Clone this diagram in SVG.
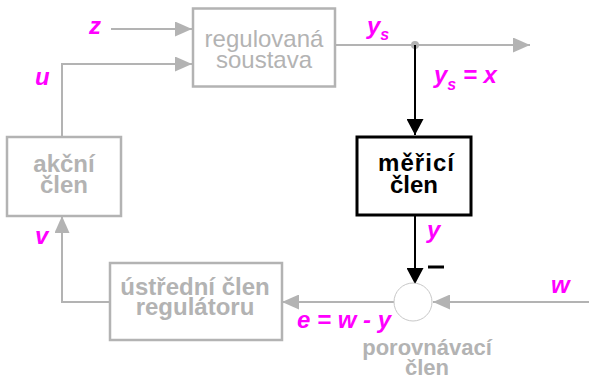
<svg xmlns="http://www.w3.org/2000/svg" width="589" height="383" viewBox="0 0 589 383">
<defs>
<style>
.box{fill:#fff;stroke:#b3b3b3;stroke-width:2.5}
.bbox{fill:#fff;stroke:#000;stroke-width:3}
.gl{fill:none;stroke:#b3b3b3;stroke-width:2}
.bl{fill:none;stroke:#000;stroke-width:2}
.t{font-family:"Liberation Sans",Arial,sans-serif;font-size:24px;text-anchor:middle}
.g{fill:#b3b3b3}
.b{font-weight:bold}
.lab{font-family:"Liberation Sans",Arial,sans-serif;font-size:24px;font-weight:bold;font-style:italic;fill:#f0f}
.sub{font-size:16px}
</style>
<marker id="ga" markerWidth="17" markerHeight="15" refX="17" refY="7.5" orient="auto" markerUnits="userSpaceOnUse"><path d="M0,0 L17,7.5 L0,15 Z" fill="#b3b3b3"/></marker>
<marker id="ba" markerWidth="16" markerHeight="17" refX="16" refY="8.5" orient="auto" markerUnits="userSpaceOnUse"><path d="M0,0 L16,8.5 L0,17 Z" fill="#000"/></marker>
</defs>
<g id="connectors">
<line class="gl" x1="111" y1="29" x2="192" y2="29" marker-end="url(#ga)"/>
<polyline class="gl" points="62,137 62,64 192,64" marker-end="url(#ga)"/>
<line class="gl" x1="335" y1="45" x2="530" y2="45" marker-end="url(#ga)"/>
<circle cx="415" cy="45" r="4" fill="#b3b3b3"/>
<line class="bl" x1="415" y1="45" x2="415" y2="135" marker-end="url(#ba)"/>
<line class="bl" x1="415" y1="215" x2="415" y2="284" marker-end="url(#ba)"/>
<line x1="428" y1="267" x2="444" y2="267" stroke="#000" stroke-width="3"/>
<line class="gl" x1="589" y1="302" x2="433" y2="302" marker-end="url(#ga)"/>
<line class="gl" x1="394" y1="302" x2="282" y2="302" marker-end="url(#ga)"/>
<polyline class="gl" points="110,302 62,302 62,216" marker-end="url(#ga)"/>
</g>
<g id="soustava">
<rect class="box" x="193" y="8.5" width="142" height="78"/>
<text class="t g" x="264" y="47">regulovaná</text>
<text class="t g" x="264" y="68">soustava</text>
</g>
<g id="merici">
<rect class="bbox" x="357" y="137" width="114" height="78"/>
<text class="t b" x="416" y="171" textLength="76" lengthAdjust="spacing">měřicí</text>
<text class="t b" x="414" y="193">člen</text>
</g>
<g id="akcni">
<rect class="box" x="7" y="137" width="114" height="79"/>
<text class="t g b" x="64" y="172">akční</text>
<text class="t g b" x="64" y="193">člen</text>
</g>
<g id="ustredni">
<rect class="box" x="110" y="263" width="172" height="77"/>
<text class="t g b" x="195" y="295">ústřední člen</text>
<text class="t g b" x="195" y="315">regulátoru</text>
</g>
<g id="porovnavaci">
<circle cx="413" cy="302" r="19" fill="#fff" stroke="#c8c8c8" stroke-width="1"/>
<text class="t g b" x="427" y="355" style="font-size:22px">porovnávací</text>
<text class="t g b" x="427" y="375" style="font-size:22px">člen</text>
</g>
<g id="labels">
<text class="lab" x="89" y="34">z</text>
<text class="lab" x="35" y="85">u</text>
<text class="lab" x="35" y="244">v</text>
<text class="lab" x="367" y="34">y<tspan class="sub" dy="6">s</tspan></text>
<text class="lab" x="434" y="83">y<tspan class="sub" dy="7">s</tspan><tspan dy="-7"> = x</tspan></text>
<text class="lab" x="427" y="238">y</text>
<text class="lab" x="551" y="293">w</text>
<text class="lab" x="297" y="328">e = w - y</text>
</g>
</svg>
